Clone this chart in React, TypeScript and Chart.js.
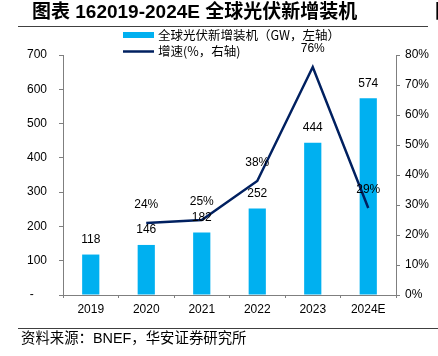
import React, { useEffect, useRef } from "react";
import { Chart, registerables } from "chart.js";

Chart.register(...registerables);

const categories = ["2019", "2020", "2021", "2022", "2023", "2024E"];
const installedGW = [118, 146, 182, 252, 444, 574];
const growthPct = [null, 24, 25, 38, 76, 29];
const leftTicks = [0, 100, 200, 300, 400, 500, 600, 700];
const rightTicks = [0, 10, 20, 30, 40, 50, 60, 70, 80];

const titleText = "图表 162019-2024E 全球光伏新增装机";
const sourceText = "资料来源：BNEF，华安证券研究所";
const legendBar = "全球光伏新增装机（GW，左轴）";
const legendLine = "增速(%，右轴)";

const BAR_COLOR = "#00B0F0";
const LINE_COLOR = "#002060";
const AXIS_COLOR = "#7f7f7f";
const LATIN = "'Liberation Sans', Arial";
const CJK = "'Noto Sans CJK SC'";

const decorPlugin = {
  id: "decor",
  afterDraw(chart: any) {
    const ctx = chart.ctx as CanvasRenderingContext2D;
    ctx.save();
    // title
    ctx.fillStyle = "#000";
    ctx.textBaseline = "middle";
    ctx.textAlign = "left";
    ctx.font = `bold 19px ${LATIN}, ${CJK}`;
    ctx.fillText(titleText, 32, 13);
    ctx.fillText("图", 435, 13);
    ctx.strokeStyle = "#404040";
    ctx.lineWidth = 1;
    ctx.beginPath();
    ctx.moveTo(18, 26.5);
    ctx.lineTo(428, 26.5);
    ctx.stroke();
    // footer
    ctx.beginPath();
    ctx.moveTo(18, 328.5);
    ctx.lineTo(438, 328.5);
    ctx.stroke();
    ctx.font = `14.4px ${LATIN}, ${CJK}`;
    ctx.fillStyle = "#000";
    ctx.fillText(sourceText, 21, 339);
    // legend
    ctx.fillStyle = BAR_COLOR;
    ctx.fillRect(123, 32, 31, 6);
    ctx.strokeStyle = LINE_COLOR;
    ctx.lineWidth = 2.5;
    ctx.beginPath();
    ctx.moveTo(123, 51.5);
    ctx.lineTo(154, 51.5);
    ctx.stroke();
    ctx.fillStyle = "#000";
    ctx.font = `12.5px ${CJK}`;
    ctx.fillText(legendBar, 158, 35);
    ctx.fillText(legendLine, 158, 51);
    // data labels
    ctx.font = `12px ${LATIN}`;
    ctx.textAlign = "center";
    const barMeta = chart.getDatasetMeta(0);
    barMeta.data.forEach((el: any, i: number) => {
      ctx.fillText(String(installedGW[i]), el.x, el.y - 15);
    });
    const lineMeta = chart.getDatasetMeta(1);
    lineMeta.data.forEach((el: any, i: number) => {
      const v = growthPct[i];
      if (v == null) return;
      ctx.fillText(v + "%", el.x, el.y - 18);
    });
    ctx.restore();
  },
};

export default function App() {
  const ref = useRef<HTMLCanvasElement>(null);
  useEffect(() => {
    if (!ref.current) return;
    const chart = new Chart(ref.current, {
      type: "bar",
      data: {
        labels: categories,
        datasets: [
          {
            type: "bar",
            data: installedGW,
            backgroundColor: BAR_COLOR,
            yAxisID: "y",
            categoryPercentage: 1,
            barPercentage: 0.31,
            order: 2,
          },
          {
            type: "line",
            data: growthPct as any,
            borderColor: LINE_COLOR,
            borderWidth: 2.5,
            pointRadius: 0,
            tension: 0,
            yAxisID: "y1",
            order: 1,
          },
        ],
      },
      options: {
        responsive: false,
        animation: false,
        layout: { padding: { left: 0, right: 0, top: 55, bottom: 0 } },
        plugins: { legend: { display: false }, tooltip: { enabled: false } },
        scales: {
          x: {
            afterFit: (s: any) => { s.height = 61; },
            border: { display: true, color: AXIS_COLOR, width: 1 },
            grid: { display: true, offset: true, drawOnChartArea: false, drawTicks: true, tickLength: 3, color: AXIS_COLOR },
            ticks: { color: "#000", font: { family: LATIN, size: 12 }, padding: 4 },
          },
          y: {
            position: "left",
            min: 0,
            max: 700,
            afterFit: (s: any) => { s.width = 63; },
            afterBuildTicks: (s: any) => { s.ticks = leftTicks.map((v) => ({ value: v })); },
            border: { display: true, color: AXIS_COLOR, width: 1 },
            grid: { display: true, drawOnChartArea: false, drawTicks: true, tickLength: 4, color: AXIS_COLOR },
            ticks: {
              color: "#000",
              font: { family: LATIN, size: 12 },
              padding: 12,
              callback: (v: any) => (Number(v) === 0 ? "-    " : String(v)),
            },
          },
          y1: {
            position: "right",
            min: 0,
            max: 80,
            afterFit: (s: any) => { s.width = 42; },
            afterBuildTicks: (s: any) => { s.ticks = rightTicks.map((v) => ({ value: v })); },
            border: { display: true, color: AXIS_COLOR, width: 1 },
            grid: { display: true, drawOnChartArea: false, drawTicks: true, tickLength: 4, color: AXIS_COLOR },
            ticks: {
              color: "#000",
              font: { family: LATIN, size: 12 },
              padding: 5,
              callback: (v: any) => v + "%",
            },
          },
        },
      },
      plugins: [decorPlugin],
    });
    return () => chart.destroy();
  }, []);
  return (
    <div style={{ position: "absolute", left: 0, top: 0, width: 438, height: 356, background: "#fff" }}>
      <canvas ref={ref} width={438} height={356} />
    </div>
  );
}
